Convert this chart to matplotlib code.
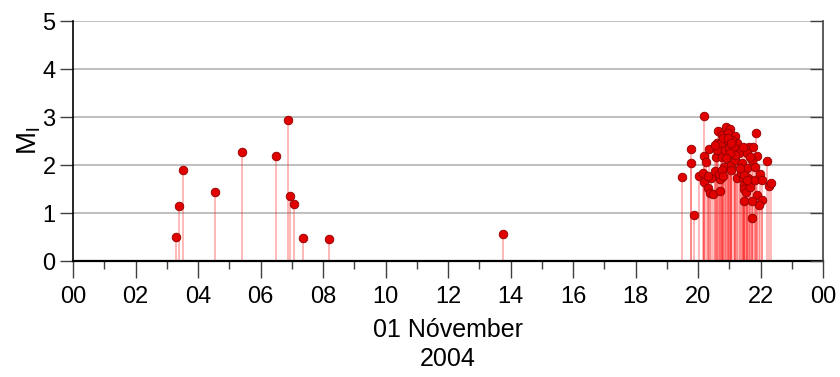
import numpy as np
import matplotlib.pyplot as plt
from matplotlib.ticker import MultipleLocator, FuncFormatter

plt.rcParams['font.family'] = ['Liberation Sans', 'DejaVu Sans']
plt.rcParams['mathtext.default'] = 'regular'
narrow = ['Liberation Sans Narrow', 'Liberation Sans', 'DejaVu Sans']

# event times (hours of 01 Nov 2004) and local magnitudes
early_t = [3.30, 3.39, 3.52, 4.54, 5.41, 6.50, 6.88, 6.94, 7.07, 7.36, 8.19, 13.76]
early_m = [0.50, 1.15, 1.90, 1.44, 2.27, 2.19, 2.94, 1.35, 1.19, 0.48, 0.46, 0.56]

swarm_t = [19.50, 19.79, 19.79, 19.86, 20.18, 20.03, 20.15, 20.20, 20.26, 20.35,
           20.18, 20.33, 20.38, 20.49, 20.42, 20.33, 20.54, 20.70, 20.70, 20.66,
           20.56, 20.60, 20.64, 20.77, 20.91, 21.03, 20.95, 20.74, 20.62, 20.77,
           20.86, 20.95, 21.00, 20.84, 20.76, 20.81, 21.18, 21.26, 21.09, 21.14,
           21.04, 21.07, 21.18, 21.24, 21.32, 21.40, 21.38, 21.43, 21.47, 21.50,
           21.56, 21.63, 21.77, 21.85, 21.61, 21.47, 21.54, 21.66, 21.82, 21.90,
           21.72, 21.58, 21.66, 21.83, 21.98, 22.05, 22.22, 22.28, 22.34, 21.89,
           22.05, 21.95, 21.48, 21.72, 21.72, 21.47, 21.34, 21.18, 21.02, 20.91,
           20.54, 20.81, 20.97, 21.07, 21.43, 21.56]
swarm_m = [1.74, 2.33, 2.05, 0.96, 3.03, 1.77, 1.84, 2.19, 2.06, 2.33,
           1.65, 1.53, 1.41, 1.40, 1.72, 1.77, 1.88, 1.46, 1.70, 1.82,
           2.17, 2.46, 2.71, 2.63, 2.79, 2.76, 2.67, 2.45, 2.31, 2.17,
           2.31, 2.49, 2.35, 1.96, 1.90, 1.77, 2.60, 2.46, 2.53, 2.35,
           2.00, 1.90, 2.10, 1.72, 2.24, 2.04, 1.84, 1.72, 1.58, 2.35,
           1.93, 2.37, 2.37, 2.67, 1.72, 1.49, 1.44, 1.55, 1.69, 2.19,
           2.10, 2.24, 2.16, 1.96, 1.81, 1.69, 2.09, 1.56, 1.63, 1.37,
           1.27, 1.17, 1.24, 1.24, 0.89, 1.79, 1.93, 2.21, 2.24, 2.14,
           2.42, 2.56, 2.56, 2.45, 2.38, 1.69]

t = np.array(early_t + swarm_t)
m = np.array(early_m + swarm_m)

fig = plt.figure(figsize=(8.4, 3.77), dpi=100)
ax = fig.add_axes([73/840, 1-261/377, 750/840, 240/377])

# grid
for yv in range(1, 6):
    ax.axhline(yv, color='#b4b4b4', lw=1.2, zorder=0)

ax.vlines(t, 0, m, color='#ff2020', alpha=0.4, lw=1.1, zorder=2)
ax.plot(t, m, 'o', ms=6.2, mfc='#e00000', mec='#900000', mew=0.6, zorder=3)

ax.set_xlim(0, 24)
ax.set_ylim(0, 5)
ax.xaxis.set_major_locator(MultipleLocator(2))
ax.xaxis.set_minor_locator(MultipleLocator(1))
ax.xaxis.set_major_formatter(FuncFormatter(lambda v, p: '%02d' % (int(round(v)) % 24)))
ax.yaxis.set_major_locator(MultipleLocator(1))

ax.spines['top'].set_visible(False)
ax.spines['right'].set_visible(False)
ax.spines['bottom'].set_linewidth(1.6)
ax.spines['left'].set_linewidth(1.2)

ax.tick_params(axis='x', which='major', direction='out', length=12, width=1.0,
               color='#404040', pad=6)
ax.tick_params(axis='x', which='minor', direction='out', length=6, width=1.0, color='#404040')
ax.tick_params(axis='y', which='major', direction='out', length=9.5, width=1.0,
               color='#404040', pad=3)
for lab in ax.get_xticklabels() + ax.get_yticklabels():
    lab.set_family(narrow)
    lab.set_fontsize(17)

ax.set_xlabel('01 Nóvember\n2004', fontsize=18, labelpad=7, linespacing=1.3)
ax.set_ylabel('$M_l$', fontsize=20, labelpad=0)

ax2 = ax.twinx()
ax2.set_ylim(0, 5)
ax2.yaxis.set_major_locator(MultipleLocator(1))
ax2.tick_params(axis='y', direction='in', length=9.5, width=1.0, color='#404040', labelright=False)
for s in ['top', 'left', 'bottom']:
    ax2.spines[s].set_visible(False)
ax2.spines['right'].set_color('#404040')
ax2.spines['right'].set_linewidth(1.2)

fig.savefig('out.png', dpi=100)
